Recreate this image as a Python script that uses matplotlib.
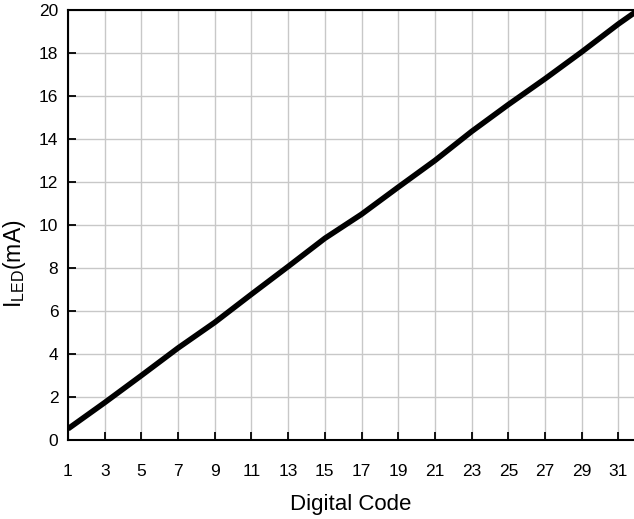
import matplotlib
matplotlib.use("Agg")
import matplotlib.pyplot as plt

plt.rcParams["font.family"] = ["Liberation Sans", "DejaVu Sans"]
plt.rcParams["mathtext.default"] = "regular"

# values
codes = [1, 3, 5, 7, 9, 11, 13, 15, 17, 19, 21, 23, 25, 27, 29, 31, 32]
i_led = [0.52, 1.74, 3.0, 4.28, 5.47, 6.78, 8.07, 9.38, 10.5, 11.76,
         13.0, 14.35, 15.6, 16.8, 18.05, 19.35, 19.95]
x_ticks = list(range(1, 32, 2))
y_ticks = list(range(0, 21, 2))

fig = plt.figure(figsize=(6.34, 5.19), dpi=100)
ax = fig.add_axes([68 / 634, 1 - 440 / 519, 1 - 68 / 634, 430 / 519])

ax.plot(codes, i_led, color="black", linewidth=4.0, solid_capstyle="butt",
        solid_joinstyle="round", zorder=3)

ax.set_xlim(1, 31.85)
ax.set_ylim(0, 20)
ax.set_xticks(x_ticks)
ax.set_yticks(y_ticks)
ax.grid(True, color="#c8c8c8", linewidth=1.0)
ax.set_axisbelow(True)

ax.tick_params(axis="x", direction="in", length=6, width=1.3, pad=17, labelsize=12.5)
ax.tick_params(axis="y", direction="in", length=6, width=1.3, pad=7, labelsize=12.5)

for side in ["left", "bottom", "top"]:
    ax.spines[side].set_linewidth(1.5)
    ax.spines[side].set_color("black")
ax.spines["right"].set_visible(False)

ax.set_xlabel("Digital Code", fontsize=16)
ax.xaxis.set_label_coords(0.5, -0.125)
ax.set_ylabel("I$_{LED}$(mA)", fontsize=16.5)
ax.yaxis.set_label_coords(-0.071, 0.41)

fig.savefig("out.png", dpi=100)
